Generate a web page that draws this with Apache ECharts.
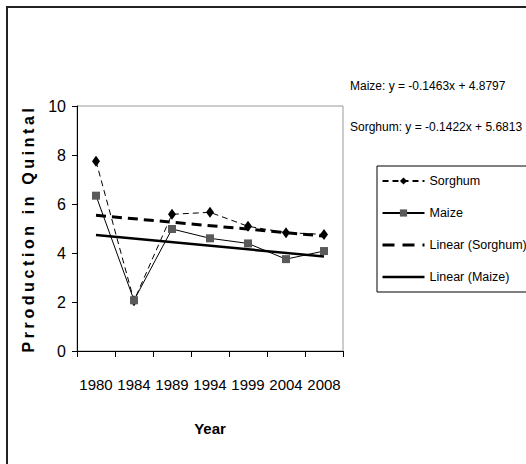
<!DOCTYPE html>
<html>
<head>
<meta charset="utf-8">
<script src="https://cdn.jsdelivr.net/npm/echarts@6/dist/echarts.min.js"></script>
<style>
html,body{margin:0;padding:0;background:#fff;}
#c{width:526px;height:464px;}
</style>
</head>
<body>
<div id="c"></div>
<script>
// ---- data ----
const years = ['1980', '1984', '1989', '1994', '1999', '2004', '2008'];
const sorghum = [7.75, 2.05, 5.58, 5.66, 5.09, 4.83, 4.76];
const maize = [6.34, 2.07, 4.98, 4.60, 4.39, 3.75, 4.08];
// trend lines: only end values, joined straight
const sorghumTrend = [5.54, '-', '-', '-', '-', '-', 4.69];
const maizeTrend = [4.73, '-', '-', '-', '-', '-', 3.86];
const yTicks = [0, 2, 4, 6, 8, 10];
const maizeEq = 'Maize: y = -0.1463x + 4.8797';
const sorghumEq = 'Sorghum: y = -0.1422x + 5.6813';

const SANS = "'Liberation Sans',Arial,sans-serif";

const chart = echarts.init(document.getElementById('c'), null, {renderer: 'svg'});
chart.setOption({
  animation: false,
  backgroundColor: '#fff',
  grid: {
    left: 77, top: 106, width: 266, height: 245,
    show: true, borderColor: '#9a9a9a', borderWidth: 1, backgroundColor: 'transparent'
  },
  xAxis: {
    type: 'category',
    data: years,
    boundaryGap: true,
    axisLine: {lineStyle: {color: '#000', width: 1}},
    axisTick: {show: true, length: 6, interval: 0, lineStyle: {color: '#000'}},
    axisLabel: {color: '#000', fontFamily: SANS, fontSize: 15, margin: 26, interval: 0},
    name: 'Year',
    nameLocation: 'middle',
    nameGap: 70,
    nameTextStyle: {color: '#000', fontFamily: SANS, fontWeight: 'bold', fontSize: 15}
  },
  yAxis: {
    type: 'value',
    min: yTicks[0], max: yTicks[yTicks.length - 1], interval: yTicks[1] - yTicks[0],
    axisLine: {show: true, lineStyle: {color: '#000', width: 1}},
    axisTick: {show: true, length: 5, lineStyle: {color: '#000'}},
    splitLine: {show: false},
    axisLabel: {color: '#000', fontFamily: SANS, fontSize: 16, margin: 11},
    name: 'Prroduction in Quintal',
    nameLocation: 'middle',
    nameGap: 41,
    nameTextStyle: {color: '#000', fontFamily: SANS, fontWeight: 'bold', fontSize: 16}
  },
  legend: {
    orient: 'vertical',
    left: 377, top: 166,
    borderColor: '#000', borderWidth: 1,
    padding: [6, 4, 6, 4],
    itemWidth: 42, itemHeight: 9, itemGap: 14,
    textStyle: {color: '#000', fontFamily: SANS, fontSize: 12.5, lineHeight: 18},
    data: [
      {name: 'Sorghum'},
      {name: 'Maize'},
      {name: 'Linear (Sorghum)', itemStyle: {opacity: 0}, lineStyle: {width: 3, type: [12, 8]}},
      {name: 'Linear (Maize)', itemStyle: {opacity: 0}, lineStyle: {width: 2.5}}
    ]
  },
  graphic: [
    {type: 'rect', silent: true, shape: {x: 7, y: 7, width: 700, height: 700},
     style: {fill: 'none', stroke: '#222', lineWidth: 2}},
    {type: 'text', left: 350, top: 80, silent: true,
     style: {text: maizeEq, fill: '#000', font: '12px ' + SANS}},
    {type: 'text', left: 350, top: 121, silent: true,
     style: {text: sorghumEq, fill: '#000', font: '12px ' + SANS}}
  ],
  series: [
    {
      name: 'Sorghum', type: 'line', data: sorghum,
      symbol: 'diamond', symbolSize: [8, 11], showAllSymbol: true,
      lineStyle: {color: '#000', width: 1, type: [6, 4]},
      itemStyle: {color: '#000'}
    },
    {
      name: 'Maize', type: 'line', data: maize,
      symbol: 'rect', symbolSize: 8, showAllSymbol: true,
      lineStyle: {color: '#000', width: 1, type: 'solid'},
      itemStyle: {color: '#5a5a5a'}
    },
    {
      name: 'Linear (Sorghum)', type: 'line', data: sorghumTrend,
      connectNulls: true, symbol: 'none',
      lineStyle: {color: '#000', width: 3, type: [10, 6]},
      itemStyle: {color: '#000'}
    },
    {
      name: 'Linear (Maize)', type: 'line', data: maizeTrend,
      connectNulls: true, symbol: 'none',
      lineStyle: {color: '#000', width: 2.5, type: 'solid'},
      itemStyle: {color: '#000'}
    }
  ]
});

function spaceTitle() {
  document.querySelectorAll('#c svg text').forEach(function (t) {
    if (t.textContent === 'Prroduction in Quintal') {
      t.setAttribute('letter-spacing', '3.6');
      t.style.letterSpacing = '3.6px';
    }
  });
}
chart.on('finished', spaceTitle);
setTimeout(spaceTitle, 50);
setTimeout(spaceTitle, 300);
</script>
</body>
</html>
